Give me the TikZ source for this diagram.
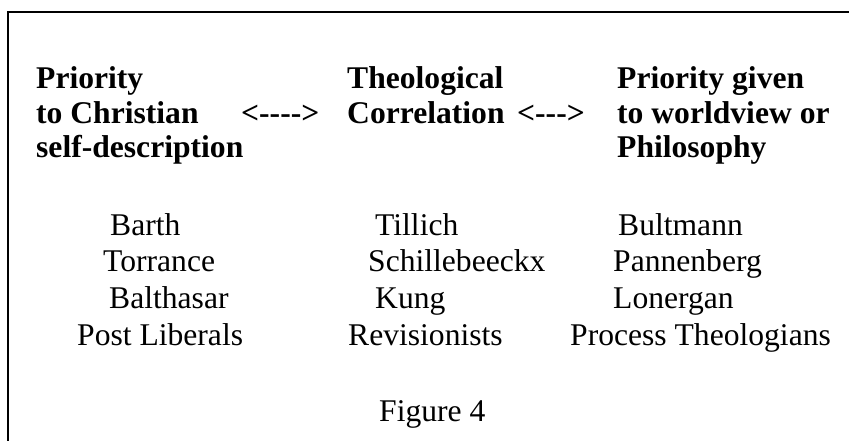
\documentclass[tikz,border=0pt]{standalone}
\usepackage{fontspec}
\setmainfont{Liberation Serif}
\begin{document}
\begin{tikzpicture}[x=1pt,y=-1pt,
  txt/.style={inner sep=0pt,anchor=base west,font=\fontsize{31.6}{36}\selectfont},
  head/.style={txt,font=\fontsize{31.6}{36}\selectfont\bfseries},
  frame/.style={draw=black,line width=2pt}]
\useasboundingbox (0,0) rectangle (849,440);
\begin{scope}
\clip (0,0) rectangle (849,440);
% outer frame, running past the right and bottom edges
\draw[frame] (8.2,11.5) rectangle (900,500);
\end{scope}

% heading row (hyphens kept apart so they do not join into dashes)
\node[head] (h1a) at (36,88.5) {Priority};
\node[head] (h1b) at (36,123) {to Christian};
\node[head] (h1c) at (36,157.5) {self-description};
\node[head] (ar1) at (241,123) {<-\kern0pt-\kern0pt-\kern0pt->};
\node[head] (h2a) at (347,88.5) {Theological};
\node[head] (h2b) at (347,123) {Correlation};
\node[head] (ar2) at (517,123) {<-\kern0pt-\kern0pt->};
\node[head] (h3a) at (617,88.5) {Priority given};
\node[head] (h3b) at (617,123) {to worldview or};
\node[head] (h3c) at (617,157.5) {Philosophy};

% first column of names
\node[txt] (c1a) at (110,235) {Barth};
\node[txt] (c1b) at (103,271.8) {Torrance};
\node[txt] (c1c) at (109,308.4) {Balthasar};
\node[txt] (c1d) at (77,345) {Post Liberals};

% second column of names
\node[txt] (c2a) at (375,235) {Tillich};
\node[txt] (c2b) at (368,271.8) {Schillebeeckx};
\node[txt] (c2c) at (375,308.4) {Kung};
\node[txt] (c2d) at (348,345) {Revisionists};

% third column of names
\node[txt] (c3a) at (618,235) {Bultmann};
\node[txt] (c3b) at (613,271.8) {Pannenberg};
\node[txt] (c3c) at (613,308.4) {Lonergan};
\node[txt] (c3d) at (570,345) {Process Theologians};

% caption
\node[txt] (cap) at (379,421) {Figure 4};
\end{tikzpicture}
\end{document}
